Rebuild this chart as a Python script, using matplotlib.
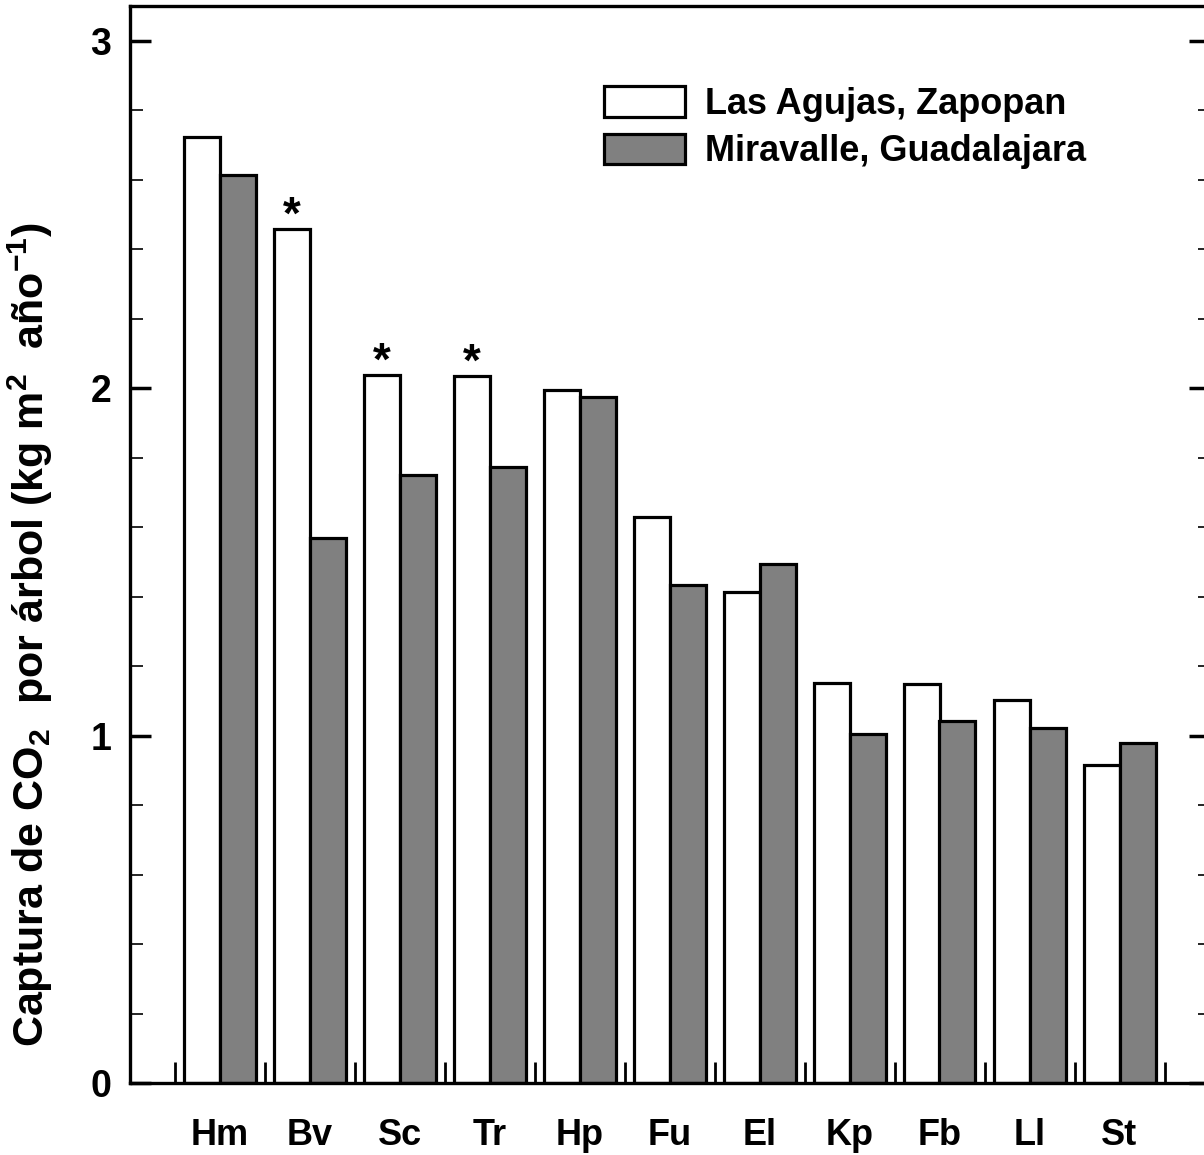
import matplotlib
matplotlib.use("Agg")
import matplotlib.pyplot as plt
import numpy as np
from matplotlib.patches import Patch
from matplotlib.ticker import MultipleLocator, FixedLocator

plt.rcParams['font.family'] = ['Liberation Sans', 'DejaVu Sans']
plt.rcParams['font.weight'] = 'bold'
plt.rcParams['mathtext.fontset'] = 'custom'
plt.rcParams['mathtext.rm'] = 'Liberation Sans:bold'
plt.rcParams['mathtext.it'] = 'Liberation Sans:bold'
plt.rcParams['mathtext.bf'] = 'Liberation Sans:bold'

categories = ["Hm", "Bv", "Sc", "Tr", "Hp", "Fu", "El", "Kp", "Fb", "Ll", "St"]
las_agujas = [2.722, 2.458, 2.039, 2.036, 1.996, 1.630, 1.414, 1.152, 1.149, 1.103, 0.917]
miravalle = [2.614, 1.570, 1.751, 1.774, 1.975, 1.433, 1.495, 1.005, 1.042, 1.023, 0.978]
significant = [False, True, True, True, False, False, False, False, False, False, False]
series_names = ["Las Agujas, Zapopan", "Miravalle, Guadalajara"]

W, H = 1204, 1155
fig = plt.figure(figsize=(W / 100, H / 100), dpi=100)
left_px, right_px = 129.5, 1209.5
top_px, bottom_px = 6.0, 1083.3
ax = fig.add_axes([left_px / W, (H - bottom_px) / H,
                   (right_px - left_px) / W, (bottom_px - top_px) / H])

x = np.arange(len(categories))
bw = 0.4
lw = 2.3
ax.bar(x - bw / 2, las_agujas, width=bw, color='white', edgecolor='black', linewidth=lw, zorder=2)
ax.bar(x + bw / 2, miravalle, width=bw, color='#808080', edgecolor='black', linewidth=lw, zorder=2)

for xi, v, s in zip(x, las_agujas, significant):
    if s:
        ax.annotate('*', xy=(xi - bw / 2, v), xytext=(0, 0), textcoords='offset points',
                    ha='center', va='baseline', fontsize=33, fontweight='bold')

ax.set_xlim(-1, 11)
ax.set_ylim(0, 3.1)

# y ticks
ax.yaxis.set_major_locator(FixedLocator([0, 1, 2, 3]))
ax.yaxis.set_minor_locator(MultipleLocator(0.2))
ax.tick_params(axis='y', which='major', direction='in', length=15, width=2.5,
               labelsize=27, pad=13, right=True)
ax.tick_params(axis='y', which='minor', direction='in', length=9, width=1.2, right=True)

# x: labels at group centers, tick marks between groups
ax.set_xticks(x)
ax.set_xticklabels(categories)
ax.set_xticks(np.arange(-0.5, len(categories)), minor=True)
ax.tick_params(axis='x', which='major', length=0, labelsize=26, pad=25)
ax.tick_params(axis='x', which='minor', direction='in', length=15, width=2.0, top=False)

for sp in ax.spines.values():
    sp.set_linewidth(2.4)

fig.text(30 / W, 1 - 635 / H, 'Captura de CO$_2$  por árbol (kg m$^2$  año$^{-1}$)',
         rotation=90, ha='center', va='center', fontsize=31, fontweight='bold')

handles = [Patch(facecolor='white', edgecolor='black', linewidth=lw),
           Patch(facecolor='#808080', edgecolor='black', linewidth=lw)]
leg = ax.legend(handles, series_names, loc='upper left',
                bbox_to_anchor=(604 / W, 1 - 86 / H), bbox_transform=fig.transFigure,
                frameon=False, fontsize=26, handlelength=2.25, handleheight=0.93,
                handletextpad=0.55, labelspacing=0.33, borderpad=0, borderaxespad=0)
for t in leg.get_texts():
    t.set_fontweight('bold')

fig.savefig('out.png', dpi=100)
